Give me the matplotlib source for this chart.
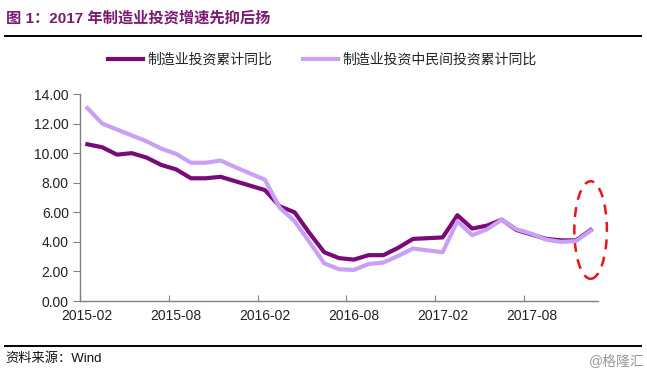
import matplotlib
matplotlib.use('Agg')
import matplotlib.pyplot as plt
from matplotlib.patches import Ellipse
from matplotlib.lines import Line2D
import numpy as np

plt.rcParams['font.family'] = ['Liberation Sans', 'Noto Sans CJK SC']

# month labels (Jan figures are merged into Feb, so no January points)
months = ['2015-02', '2015-03', '2015-04', '2015-05', '2015-06', '2015-07', '2015-08',
          '2015-09', '2015-10', '2015-11', '2015-12',
          '2016-02', '2016-03', '2016-04', '2016-05', '2016-06', '2016-07', '2016-08',
          '2016-09', '2016-10', '2016-11', '2016-12',
          '2017-02', '2017-03', '2017-04', '2017-05', '2017-06', '2017-07', '2017-08',
          '2017-09', '2017-10', '2017-11', '2017-12']
manuf = [10.6, 10.4, 9.9, 10.0, 9.7, 9.2, 8.9, 8.3, 8.3, 8.4, 8.1,
         7.5, 6.4, 6.0, 4.6, 3.3, 2.9, 2.8, 3.1, 3.1, 3.6, 4.2,
         4.3, 5.8, 4.9, 5.1, 5.5, 4.8, 4.5, 4.2, 4.1, 4.1, 4.8]
private = [13.05, 12.0, 11.6, 11.2, 10.8, 10.3, 9.95, 9.35, 9.35, 9.5, 9.05,
           8.2, 6.3, 5.4, 4.0, 2.55, 2.15, 2.1, 2.5, 2.6, 3.05, 3.55,
           3.3, 5.4, 4.45, 4.85, 5.5, 4.85, 4.55, 4.15, 4.0, 4.05, 4.75]
tick_labels = ['2015-02', '2015-08', '2016-02', '2016-08', '2017-02', '2017-08']

def month_pos(s):
    y, m = s.split('-')
    return (int(y) - 2015) * 12 + int(m) - 2

x = np.array([month_pos(s) for s in months])

dark = '#7a0a78'
light = '#c8a0f6'

fig = plt.figure(figsize=(6.47, 3.78), dpi=100)
ax = fig.add_axes([0.1236, 0.2037, 0.8007, 0.5476])

ax.plot(x, manuf, color=dark, lw=3.0, solid_joinstyle='round', label='制造业投资累计同比')
ax.plot(x, private, color=light, lw=3.0, solid_joinstyle='round', label='制造业投资中民间投资累计同比')

ax.set_xlim(-0.5, 34.5)
ax.set_ylim(0, 14)
ax.set_yticks(np.arange(0, 15, 2))
ax.set_yticklabels(['%.2f' % v for v in np.arange(0, 15, 2)])

# ticks between categories, labels at category centres
ax.set_xticks([month_pos(t) - 0.5 for t in tick_labels])
ax.set_xticklabels([])
ax.set_xticks([month_pos(t) for t in tick_labels], minor=True)
ax.set_xticklabels(tick_labels, minor=True)
ax.tick_params(axis='x', which='major', direction='in', length=4, color='#808080')
ax.tick_params(axis='x', which='minor', length=0, pad=6, labelsize=10, labelcolor='#222222')
ax.tick_params(axis='y', direction='out', length=5, color='#808080', labelsize=10,
               labelcolor='#222222', pad=3)

for s in ['top', 'right']:
    ax.spines[s].set_visible(False)
for s in ['left', 'bottom']:
    ax.spines[s].set_color('#808080')
    ax.spines[s].set_linewidth(1)

# red dashed highlight on the last point
ell = Ellipse((x[-1], manuf[-1]), 2.2, 6.6, fill=False, edgecolor='#e8141c',
              ls=(0, (4, 3)), lw=1.8, clip_on=False)
ax.add_patch(ell)

# legend
leg = fig.legend(handles=[Line2D([], [], color=dark, lw=3),
                          Line2D([], [], color=light, lw=3)],
                 labels=['制造业投资累计同比', '制造业投资中民间投资累计同比'],
                 loc='center', bbox_to_anchor=(0.4985, 0.842), ncol=2, frameon=False,
                 fontsize=10, handlelength=2.5, handletextpad=0.35, columnspacing=2.2)
for t in leg.get_texts():
    t.set_color('#222222')

# title and rules
fig.text(0.009, 0.953, '图 1：2017 年制造业投资增速先抑后扬', color='#7a1a70',
         fontsize=11, fontweight='bold', va='center', ha='left')
fig.add_artist(Line2D([0.008, 0.99], [0.905, 0.905], color='black', lw=1.4))
fig.add_artist(Line2D([0.008, 0.99], [0.085, 0.085], color='black', lw=1.4))

fig.text(0.008, 0.05, '资料来源：Wind', fontsize=9.5, color='#111111', va='center', ha='left')
fig.text(0.997, 0.042, '@格隆汇', fontsize=10, color='#999999', va='center', ha='right')

fig.savefig('out.png', dpi=100)
